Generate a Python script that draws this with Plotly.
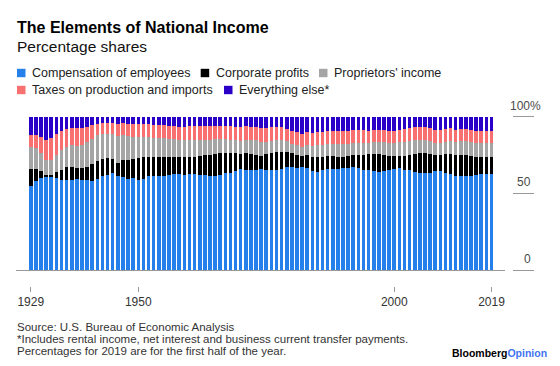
import plotly.graph_objects as go

# ---------------- data (percentage shares of national income) ----------------
years = list(range(1929, 2020))

comp = [55, 58, 60, 61, 61, 60, 59, 59, 59, 59.5,
        59, 58.5, 58, 59.5, 61, 62, 63, 61, 60.5, 59.5,
        60, 59, 59.5, 61, 61.5, 61.5, 61, 62, 62.5, 62.5,
        62, 62.5, 62.5, 62, 62, 61.5, 61, 62, 63, 63.5,
        64.5, 66, 65.5, 65, 65, 66, 65.5, 65.5, 65.5, 66,
        67, 67.5, 66.5, 67, 66.5, 64.5, 64, 65, 66, 66,
        66, 66.5, 66.5, 67, 66.5, 65.5, 65, 64.5, 64, 64.5,
        65, 66, 66.5, 65.5, 65, 64, 63.5, 63, 63.5, 64.5,
        64.5, 63, 62.5, 61.5, 61.5, 61.5, 61.5, 62, 62.5, 62.5,
        62.5]
corp = [11, 8, 4.5, 1, 1, 4, 6, 8, 8.5, 7,
        7.5, 9, 11, 11.5, 11.5, 11, 9.5, 8.5, 11, 12,
        12.5, 14, 14, 12.5, 12, 12, 13, 12, 11.5, 11,
        12, 11.5, 11.5, 12.5, 13, 13.5, 14.5, 14, 13, 12.5,
        11.5, 9.5, 10.5, 10.5, 10, 8.5, 10, 11, 11.5, 11,
        10, 8.5, 8.5, 7.5, 8.5, 9.5, 10, 9, 8.5, 8.5,
        8, 7.5, 8, 8, 8.5, 9.5, 10.5, 11, 11.5, 10.5,
        9.5, 8.5, 8, 9, 10, 11.5, 13, 13.5, 12, 10.5,
        10.5, 12.5, 13, 13.5, 13.5, 13.5, 13, 12, 11.5, 11.5,
        11.5]
prop = [14.5, 13.5, 12, 10, 10, 11, 13, 13, 14, 14.5,
        15, 16, 16.5, 17, 16.5, 16, 16, 18, 16.5, 16,
        14.5, 14, 13.5, 13, 12.5, 12.5, 12, 11.5, 11.5, 11.5,
        11, 11, 11, 10.5, 10, 10, 10, 9.5, 9.5, 9,
        8.5, 8.5, 8.5, 9, 9.5, 9, 8, 7.5, 7.5, 7.5,
        7, 6.5, 6.5, 6, 6.5, 7, 7.5, 7.5, 7.5, 8,
        8, 8, 7.5, 8, 8, 8, 7.5, 8, 8, 8.5,
        8.5, 8.5, 9, 9, 9, 9, 8.5, 8.5, 8.5, 8,
        8, 8, 8.5, 8.5, 9, 9, 9, 9, 9, 9,
        9]
taxes = [7.5, 8.5, 10.5, 13, 14, 14, 13, 12, 11, 11.5,
         11, 10, 9, 7.5, 7, 7, 7.5, 8, 8, 8,
         8.5, 8.5, 8.5, 8.5, 8.5, 8.5, 8.5, 8.5, 8.5, 8.5,
         8.5, 9, 9, 9, 9, 9, 8.5, 8.5, 8.5, 9,
         9, 9.5, 9.5, 9, 9, 9, 9, 9, 8.5, 8.5,
         8, 8.5, 8.5, 8.5, 8.5, 8.5, 8.5, 8.5, 8.5, 8.5,
         8.5, 8.5, 8.5, 8.5, 8.5, 8.5, 8, 8, 8, 8,
         8, 8, 8, 8.5, 8.5, 8.5, 8.5, 8.5, 8.5, 8.5,
         8.5, 8.5, 8.5, 8, 8, 8, 8, 8, 8, 8,
         8]
other = [12, 12, 13, 15, 14, 11, 9, 8, 7.5, 7.5,
         7.5, 6.5, 5.5, 4.5, 4, 4, 4, 4.5, 4, 4.5,
         4.5, 4.5, 4.5, 5, 5.5, 5.5, 5.5, 6, 6, 6.5,
         6.5, 6, 6, 6, 6, 6, 6, 6, 6, 6,
         6.5, 6.5, 6, 6.5, 6.5, 7.5, 7.5, 7, 7, 7,
         8, 9, 10, 11, 10, 10.5, 10, 10, 9.5, 9,
         9.5, 9.5, 9.5, 8.5, 8.5, 8.5, 9, 8.5, 8.5, 8.5,
         9, 9, 8.5, 8, 7.5, 7, 6.5, 6.5, 7.5, 8.5,
         8.5, 8, 7.5, 8.5, 8, 8, 8.5, 9, 9, 9,
         9]

series_names = ["Compensation of employees", "Corporate profits",
                "Proprietors' income", "Taxes on production and imports",
                "Everything else*"]
series_values = [comp, corp, prop, taxes, other]

x_tick_years = [1929, 1950, 2000, 2019]
y_tick_vals = [0, 50, 100]
y_tick_text = ["0", "50", "100%"]

# ---------------- styling ----------------
colors = ["#2680ec", "#000000", "#a5a5a5", "#f8706f", "#2a00c9"]
FONT = "Liberation Sans, Arial, sans-serif"
OFF = 8                     # page body margin offset
W, H = 560 - OFF, 366 - OFF


def px(x):
    return (x - OFF) / W


def py(y):
    return 1 - (y - OFF) / H


XRANGE = [1926.11, 2021.64]

fig = go.Figure()
for name, vals, col in zip(series_names, series_values, colors):
    fig.add_bar(x=years, y=vals, name=name,
                marker=dict(color=col, line=dict(width=0)),
                showlegend=False, hoverinfo="x+y+name")

# helper trace that carries the lower tick axis and the right tick axis
fig.add_scatter(x=x_tick_years, y=[None] * len(x_tick_years),
                xaxis="x2", yaxis="y2", mode="markers",
                showlegend=False, hoverinfo="skip")

annotations = []
shapes = []

# title + subtitle
annotations.append(dict(text="<b>The Elements of National Income</b>",
                        x=px(15), y=py(27.5), xref="paper", yref="paper",
                        xanchor="left", yanchor="middle", showarrow=False,
                        font=dict(family=FONT, size=16, color="#000")))
annotations.append(dict(text="Percentage shares",
                        x=px(15), y=py(47), xref="paper", yref="paper",
                        xanchor="left", yanchor="middle", showarrow=False,
                        font=dict(family=FONT, size=15.5, color="#111")))

# custom legend
legend_slots = [(17, 73), (200.7, 73), (319, 73), (17, 90), (224, 90)]
for (lx, ly), name, col in zip(legend_slots, series_names, colors):
    shapes.append(dict(type="rect", xref="paper", yref="paper",
                       x0=px(lx), x1=px(lx + 8.5), y0=py(ly + 4.2), y1=py(ly - 4.2),
                       fillcolor=col, line=dict(width=0)))
    annotations.append(dict(text=name, x=px(lx + 13), y=py(ly),
                            xref="paper", yref="paper", xanchor="left",
                            yanchor="middle", showarrow=False,
                            font=dict(family=FONT, size=12.5, color="#222")))

# right-hand value labels sitting on top of the tick lines
for v, t in zip(y_tick_vals, y_tick_text):
    annotations.append(dict(text=t, x=px(533), y=v, xref="paper", yref="y",
                            xanchor="right", yanchor="middle", yshift=11,
                            xshift=10.3 if t.endswith("%") else 0,
                            showarrow=False,
                            font=dict(family=FONT, size=12, color="#4a4a4a")))

# footer
footer = ["Source: U.S. Bureau of Economic Analysis",
          "*Includes rental income, net interest and business current transfer payments.",
          "Percentages for 2019 are for the first half of the year."]
for i, line in enumerate(footer):
    annotations.append(dict(text=line, x=px(15), y=py(326.5 + 12.2 * i),
                            xref="paper", yref="paper", xanchor="left",
                            yanchor="middle", showarrow=False,
                            font=dict(family=FONT, size=11.5, color="#333")))

annotations.append(dict(text="<b>Bloomberg</b><b><span style='color:#3f74f0'>Opinion</span></b>",
                        x=px(549), y=py(352.5), xref="paper", yref="paper",
                        xanchor="right", yanchor="middle", showarrow=False,
                        font=dict(family=FONT, size=10.5, color="#000")))

fig.update_layout(
    width=W, height=H,
    margin=dict(l=0, r=0, t=0, b=0),
    paper_bgcolor="white", plot_bgcolor="white",
    barmode="stack", bargap=0.3,
    showlegend=False,
    font=dict(family=FONT),
    xaxis=dict(domain=[px(16), px(505)], range=XRANGE,
               showline=True, linecolor="#9a9a9a", linewidth=1,
               ticks="", showticklabels=False, showgrid=False,
               zeroline=False, fixedrange=True),
    xaxis2=dict(domain=[px(16), px(505)], overlaying="x", anchor="free",
                position=py(286), side="bottom", range=XRANGE,
                tickmode="array", tickvals=x_tick_years,
                ticktext=[str(y) for y in x_tick_years],
                ticks="outside", ticklen=5, tickwidth=1, tickcolor="#999",
                showline=False, showgrid=False, zeroline=False,
                tickfont=dict(family=FONT, size=12, color="#333"),
                fixedrange=True),
    yaxis=dict(domain=[py(270), py(116.7)], range=[0, 100],
               showgrid=False, zeroline=False, showticklabels=False,
               ticks="", showline=False, fixedrange=True),
    yaxis2=dict(overlaying="y", anchor="free", position=px(512),
                side="right", range=[0, 100], tickmode="array",
                tickvals=y_tick_vals, ticks="outside", ticklen=21,
                tickwidth=1, tickcolor="#999", showticklabels=False,
                showgrid=False, zeroline=False, showline=False,
                fixedrange=True),
    annotations=annotations,
    shapes=shapes,
)

fig.write_html("out.html")
